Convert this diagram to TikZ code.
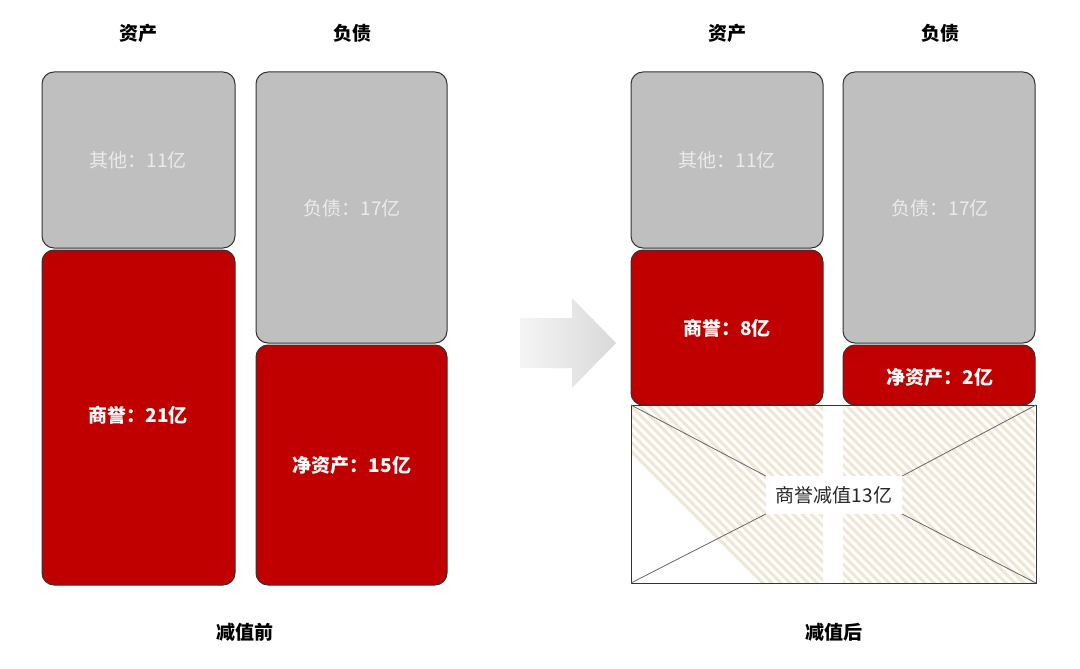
\documentclass[tikz,border=0pt]{standalone}
\usepackage{fontspec}
\setmainfont{Noto Sans CJK SC}
\newfontfamily\cjkb[BoldFont={Noto Sans CJK SC Bold}]{Noto Sans CJK SC}
\definecolor{dred}{HTML}{C00000}
\definecolor{lgray}{HTML}{BFBFBF}
\definecolor{hatch}{HTML}{EFE6D6}
\begin{document}
\begin{tikzpicture}[x=1pt,y=-1pt,
  gbox/.style={draw=black!80,line width=1pt,fill=lgray,rounded corners=12pt},
  rbox/.style={draw=black!80,line width=1pt,fill=dred,rounded corners=12pt},
  gtxt/.style={text=white!92!black,font=\fontsize{19}{19}\selectfont},
  rtxt/.style={text=white,font=\fontsize{19}{19}\selectfont\bfseries},
  head/.style={font=\fontsize{19}{19}\selectfont\bfseries}]
\useasboundingbox (0,0) rectangle (1080,669);
% left
\draw[gbox] (42,72) rectangle (235,248);
\draw[rbox] (42,250) rectangle (235,585);
\draw[gbox] (256,72) rectangle (447,343);
\draw[rbox] (256,345) rectangle (447,585);
\node[gtxt] (a1) at (138,160) {其他：11亿};
\node[rtxt] (a2) at (138,415) {商誉：21亿};
\node[gtxt] (a3) at (352,208) {负债：17亿};
\node[rtxt] (a4) at (352,465) {净资产：15亿};
\node[head] (h1) at (138,33) {资产};
\node[head] (h2) at (352,33) {负债};
\node[head] (h3) at (245,632) {减值前};
% arrow
\shade[left color=black!4,right color=black!15]
  (520,318) -- (572,318) -- (572,298) -- (616,343) -- (572,388) -- (572,368) -- (520,368) -- cycle;
% right
\draw[gbox] (631,72) rectangle (823,248);
\draw[rbox] (631,250) rectangle (823,405);
\draw[gbox] (843,72) rectangle (1035,343);
\draw[rbox] (843,345) rectangle (1035,405);
\begin{scope}
\clip (632,406) rectangle (823,583) (843,406) rectangle (1035,583);
\foreach \i in {0,...,70}{
  \draw[hatch,line width=3pt] (560+\i*9,380) -- ++(230,230);
}
\end{scope}
\draw[black!80,line width=1pt] (631,405) rectangle (1036,583);
\node[fill=white,inner sep=10pt,font=\fontsize{19}{19}\selectfont,text=black!85] (d) at (834,495) {商誉减值13亿};
\draw[black!60,line width=0.8pt] (631,405) -- (d.north west);
\draw[black!60,line width=0.8pt] (1036,405) -- (d.north east);
\draw[black!60,line width=0.8pt] (631,583) -- (d.south west);
\draw[black!60,line width=0.8pt] (1036,583) -- (d.south east);
\node[gtxt] (b1) at (727,160) {其他：11亿};
\node[rtxt] (b2) at (727,328) {商誉：8亿};
\node[gtxt] (b3) at (940,208) {负债：17亿};
\node[rtxt] (b4) at (940,377) {净资产：2亿};
\node[head] (h4) at (727,33) {资产};
\node[head] (h5) at (940,33) {负债};
\node[head] (h6) at (834,632) {减值后};
\end{tikzpicture}
\end{document}
